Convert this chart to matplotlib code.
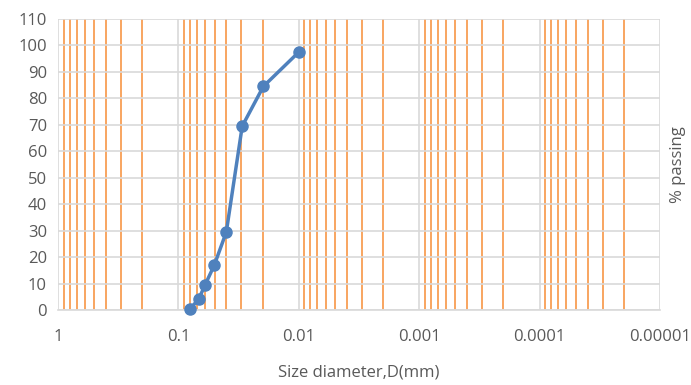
import numpy as np
import matplotlib
matplotlib.use("Agg")
import matplotlib.pyplot as plt
from matplotlib.ticker import LogLocator, NullFormatter

# Dados da curva granulométrica
diametro = [0.08, 0.068, 0.06, 0.0503, 0.040, 0.0295, 0.0197, 0.0100]
passante = [0.5, 4, 9.5, 17, 29.5, 69.5, 84.5, 97.5]

x_ticks = [1, 0.1, 0.01, 0.001, 0.0001, 0.00001]
x_labels = ["1", "0.1", "0.01", "0.001", "0.0001", "0.00001"]
y_ticks = list(range(0, 111, 10))

plt.rcParams['font.family'] = ['Open Sans', 'DejaVu Sans']

fig = plt.figure(figsize=(6.91, 3.85), dpi=100)
ax = fig.add_axes([58 / 691, 1 - 310 / 385, (660 - 58) / 691, (310 - 19) / 385])

ax.set_xscale('log')
ax.set_xlim(1, 0.00001)  # eixo invertido
ax.set_ylim(0, 110)

ax.set_xticks(x_ticks)
ax.set_xticklabels(x_labels)
ax.xaxis.set_minor_locator(LogLocator(base=10, subs=np.arange(2, 10)))
ax.xaxis.set_minor_formatter(NullFormatter())
ax.set_yticks(y_ticks)

ax.grid(True, which='major', axis='both', color='#d9d9d9', linewidth=1.2)
ax.grid(True, which='minor', axis='x', color='#f79646', linewidth=1.2)
ax.set_axisbelow(True)

for s in ax.spines.values():
    s.set_visible(False)
ax.spines['bottom'].set_visible(True)
ax.spines['bottom'].set_color('#d9d9d9')
ax.spines['bottom'].set_linewidth(1.2)

ax.tick_params(which='both', length=0, colors='#595959', labelsize=12)
ax.tick_params(axis='x', pad=14)
ax.tick_params(axis='y', pad=8)

ax.plot(diametro, passante, color='#4f81bd', linewidth=2.5, marker='o',
        markersize=8, markerfacecolor='#4f81bd', markeredgecolor='#4f81bd',
        zorder=3, clip_on=False)

ax.set_xlabel("Size diameter,D(mm)", color='#595959', fontsize=12, labelpad=14)
fig.text(678 / 691, 1 - 165 / 385, "% passing", rotation=90, color='#595959',
         fontsize=12, ha='center', va='center')

plt.savefig("out.png", dpi=100)
